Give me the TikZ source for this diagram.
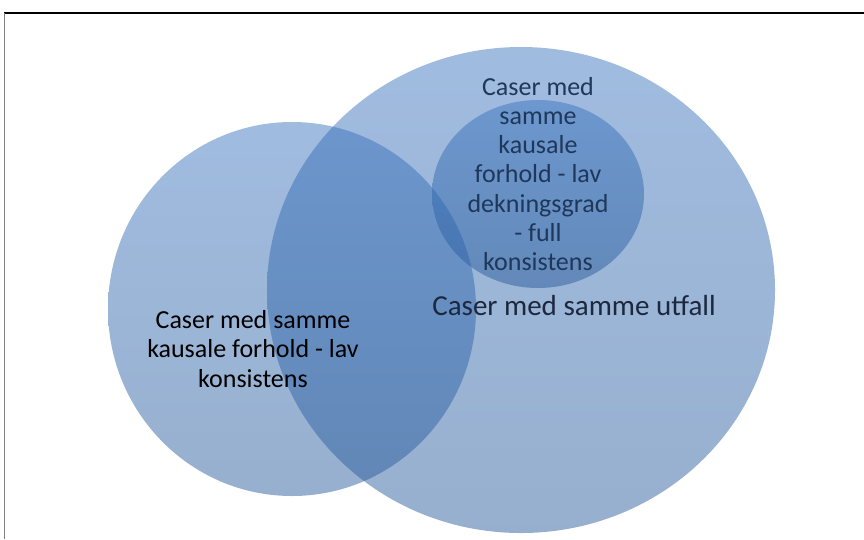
\documentclass[tikz,border=0pt]{standalone}
\usepackage{fontspec}
\setmainfont{Carlito}
\definecolor{topc}{RGB}{53,113,189}
\definecolor{botc}{RGB}{36,87,153}
\definecolor{smalltxt}{RGB}{30,55,90}
\definecolor{bigtxt}{RGB}{28,40,62}
\tikzset{
  venn/.style={top color=topc, bottom color=botc, fill opacity=0.47, draw=none},
  lbl/.style={align=center, inner sep=0pt, font=\fontsize{26}{29.3}\selectfont},
}
\begin{document}
\begin{tikzpicture}[x=1pt,y=-1pt]
\useasboundingbox (0,0) rectangle (864,539);
\fill[white] (0,0) rectangle (864,539);
% frame
\draw[black, line width=1.2pt] (4,13) -- (864,13);
\draw[gray, line width=1.6pt] (4.5,13) -- (4.5,539);
% circles
\shade[venn] (292,309) ellipse [x radius=184pt, y radius=187pt];
\shade[venn] (521,290) ellipse [x radius=254pt, y radius=243pt];
\shade[venn] (538,194) ellipse [x radius=106pt, y radius=94pt];
% labels
\node[lbl, text=black] (left) at (253,349) {Caser med samme\\kausale forhold - lav\\konsistens};
\node[lbl, text=smalltxt] (small) at (538,174) {Caser med\\samme\\kausale\\forhold - lav\\dekningsgrad\\- full\\konsistens};
\node[lbl, text=bigtxt, font=\fontsize{29}{33}\selectfont] (big) at (574,306) {Caser med samme utfall};
\end{tikzpicture}
\end{document}
